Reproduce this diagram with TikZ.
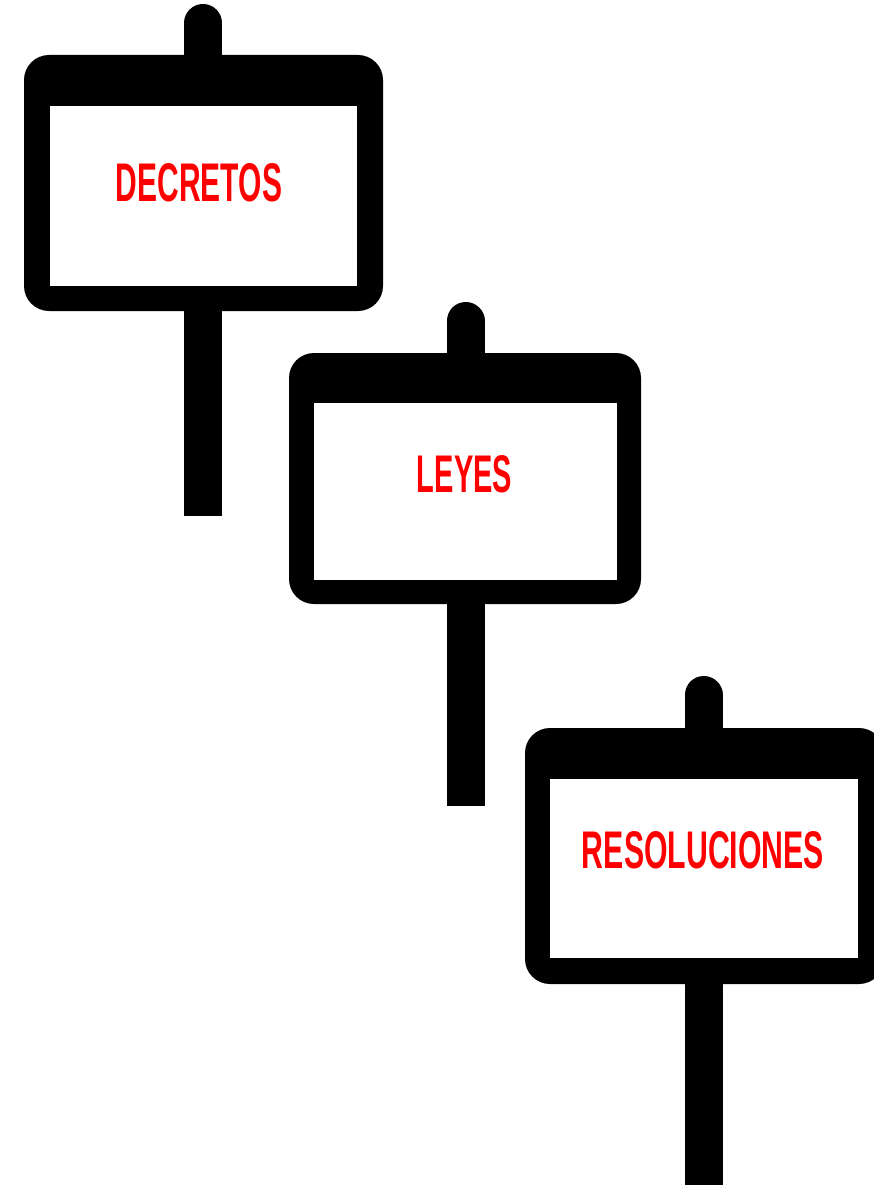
\documentclass[tikz,border=0pt]{standalone}
\usepackage{fontspec}
\setmainfont{Liberation Sans}
\usepackage{graphicx}
\begin{document}
\begin{tikzpicture}[x=1pt,y=-1pt,
  board/.style={fill=black,rounded corners=25pt},
  face/.style={fill=white},
  post/.style={line width=38pt,draw=black},
  toppost/.style={line width=38pt,draw=black,line cap=round},
  signtext/.style={text=red,inner sep=0pt,font=\bfseries}]
\useasboundingbox (0,0) rectangle (874,1185);
\clip (0,0) rectangle (874,1185);
% Sign 1
\draw[toppost] (203,23) -- (203,70);
\draw[post] (203,300) -- (203,516);
\fill[board] (24,55) rectangle (383,311);
\fill[face] (50,106) rectangle (357,286);
\node[signtext] (t1) at (199,183) {\resizebox{166pt}{38pt}{DECRETOS}};
% Sign 2
\draw[toppost] (465.5,321) -- (465.5,370);
\draw[post] (465.5,590) -- (465.5,806);
\fill[board] (289,353) rectangle (641,604);
\fill[face] (314,403) rectangle (617,580);
\node[signtext] (t2) at (464.5,474) {\resizebox{95pt}{37pt}{LEYES}};
% Sign 3
\draw[toppost] (703.5,695) -- (703.5,745);
\draw[post] (703.5,970) -- (703.5,1185);
\fill[board] (525,728) rectangle (884,984);
\fill[face] (550,779) rectangle (858,958);
\node[signtext] (t3) at (703,850) {\resizebox{242pt}{37pt}{RESOLUCIONES}};
\end{tikzpicture}
\end{document}
